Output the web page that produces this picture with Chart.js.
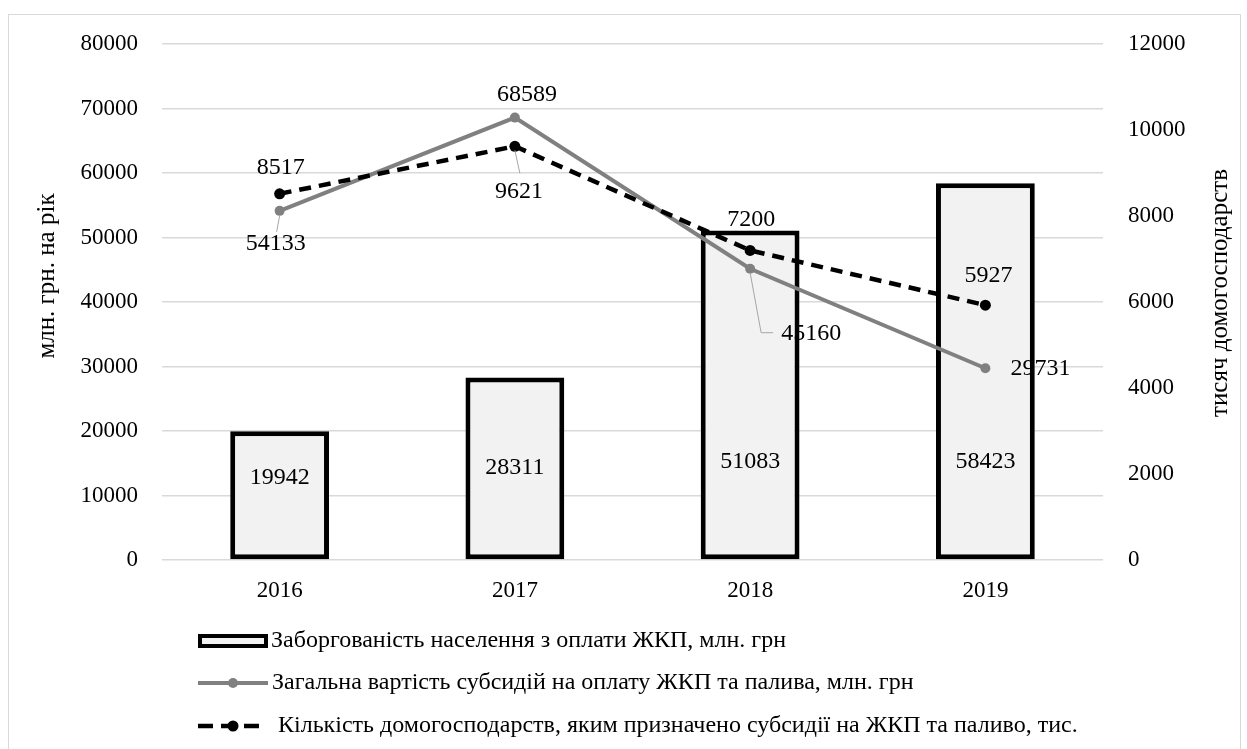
<!DOCTYPE html>
<html>
<head>
<meta charset="utf-8">
<script src="https://cdn.jsdelivr.net/npm/chart.js@4.4.1/dist/chart.umd.min.js"></script>
<style>
  html, body { margin: 0; padding: 0; background: #fff; }
  #wrap { width: 1247px; height: 749px; }
</style>
</head>
<body>
<div id="wrap"><canvas id="myChart" width="1247" height="749"></canvas></div>
<script>
  // data
  const years = ['2016', '2017', '2018', '2019'];
  const debt = [19942, 28311, 51083, 58423];           // bars, left axis
  const subsidyCost = [54133, 68589, 45160, 29731];    // grey line, left axis
  const households = [8517, 9621, 7200, 5927];         // dashed line, right axis

  const seriesNames = [
    'Заборгованість населення з оплати ЖКП, млн. грн',
    'Загальна вартість субсидій на оплату ЖКП та палива, млн. грн',
    'Кількість домогосподарств, яким призначено субсидії на ЖКП та паливо, тис.'
  ];
  const leftTitle = 'млн. грн. на рік';
  const rightTitle = 'тисяч домогосподарств';

  const FONT = 'Liberation Serif, Times New Roman, serif';
  const FSIZE = 24;      // labels + legend
  const TICKSIZE = 23;   // axis ticks
  const TITLESIZE = 25;  // axis titles

  // where each value label sits, relative to its mark (px)
  const barLabelShift = [[0, -18], [0, -1], [0, 67], [0, 90]];
  const costLabelShift = [[-4, 33], [12, -23], [61, 65], [55, 0]];
  const houseLabelShift = [[1, -26], [4, 45], [1, -31], [3, -29]];
  // leader lines (relative to the point), null = none
  const costLeaders = [[[0, 5], [-3, 21]], null, [[0, 4], [11, 64], [23, 64]], null];
  const houseLeaders = [null, [[0, 4], [5, 27]], null, null];

  // outer frame
  const framePlugin = {
    id: 'frame',
    beforeDraw(chart) {
      const ctx = chart.ctx;
      ctx.save();
      ctx.strokeStyle = '#d9d9d9';
      ctx.lineWidth = 1;
      ctx.strokeRect(8.5, 14.5, 1232, 740);
      ctx.restore();
    }
  };

  // value labels + leaders + axis titles
  const labelPlugin = {
    id: 'valueLabels',
    afterDatasetsDraw(chart) {
      const ctx = chart.ctx;
      ctx.save();
      ctx.font = FSIZE + 'px ' + FONT;
      ctx.fillStyle = '#000';
      ctx.textAlign = 'center';
      ctx.textBaseline = 'middle';

      const sets = [
        { idx: 0, shift: barLabelShift, leaders: null },
        { idx: 1, shift: costLabelShift, leaders: costLeaders },
        { idx: 2, shift: houseLabelShift, leaders: houseLeaders }
      ];
      sets.forEach(s => {
        const meta = chart.getDatasetMeta(s.idx);
        const vals = chart.data.datasets[s.idx].data;
        meta.data.forEach((el, i) => {
          let x = el.x, y = el.y;
          if (s.idx === 0) y = (el.y + el.base) / 2;
          if (s.leaders && s.leaders[i]) {
            ctx.strokeStyle = '#a6a6a6';
            ctx.lineWidth = 1;
            ctx.beginPath();
            s.leaders[i].forEach((p, k) => {
              if (k === 0) ctx.moveTo(x + p[0], y + p[1]);
              else ctx.lineTo(x + p[0], y + p[1]);
            });
            ctx.stroke();
          }
          ctx.fillText(String(vals[i]), x + s.shift[i][0], y + s.shift[i][1]);
        });
      });

      // axis titles, both read bottom-to-top
      const area = chart.chartArea;
      const midY = (area.top + area.bottom) / 2;
      ctx.font = TITLESIZE + 'px ' + FONT;
      ctx.save();
      ctx.translate(47, midY - 26);
      ctx.rotate(-Math.PI / 2);
      ctx.fillText(leftTitle, 0, 0);
      ctx.restore();
      ctx.save();
      ctx.translate(1220, midY - 9);
      ctx.rotate(-Math.PI / 2);
      ctx.fillText(rightTitle, 0, 0);
      ctx.restore();

      ctx.restore();
    }
  };

  // legend drawn by hand: three stacked rows
  const legendPlugin = {
    id: 'stackLegend',
    afterDraw(chart) {
      const ctx = chart.ctx;
      const ds = chart.data.datasets;
      const rows = [641, 683, 726];
      ctx.save();
      ctx.font = FSIZE + 'px ' + FONT;
      ctx.textBaseline = 'middle';
      ctx.textAlign = 'left';

      // bar swatch
      ctx.fillStyle = ds[0].backgroundColor;
      ctx.fillRect(198, rows[0] - 7, 70, 13);
      ctx.strokeStyle = ds[0].borderColor;
      ctx.lineWidth = 4;
      ctx.strokeRect(200, rows[0] - 5, 66, 10);
      ctx.fillStyle = '#000';
      ctx.fillText(ds[0].label, 271, rows[0]);

      // grey line swatch
      ctx.strokeStyle = ds[1].borderColor;
      ctx.lineWidth = ds[1].borderWidth;
      ctx.beginPath();
      ctx.moveTo(198, rows[1]); ctx.lineTo(268, rows[1]);
      ctx.stroke();
      ctx.fillStyle = ds[1].pointBackgroundColor;
      ctx.beginPath(); ctx.arc(233, rows[1], 5, 0, Math.PI * 2); ctx.fill();
      ctx.fillStyle = '#000';
      ctx.fillText(ds[1].label, 272, rows[1]);

      // dashed line swatch
      ctx.strokeStyle = ds[2].borderColor;
      ctx.lineWidth = ds[2].borderWidth;
      ctx.setLineDash([15, 8]);
      ctx.beginPath();
      ctx.moveTo(198, rows[2]); ctx.lineTo(263, rows[2]);
      ctx.stroke();
      ctx.setLineDash([]);
      ctx.fillStyle = ds[2].pointBackgroundColor;
      ctx.beginPath(); ctx.arc(233, rows[2], 5.5, 0, Math.PI * 2); ctx.fill();
      ctx.fillStyle = '#000';
      ctx.fillText(ds[2].label, 278, rows[2]);

      ctx.restore();
    }
  };

  const data = {
    labels: years,
    datasets: [
      {
        type: 'bar',
        label: seriesNames[0],
        data: debt,
        yAxisID: 'y',
        backgroundColor: '#f2f2f2',
        borderColor: '#000',
        borderWidth: 5,
        borderSkipped: false,
        barPercentage: 0.42,
        categoryPercentage: 1,
        order: 3
      },
      {
        type: 'line',
        label: seriesNames[1],
        data: subsidyCost,
        yAxisID: 'y',
        borderColor: '#808080',
        borderWidth: 4,
        pointBackgroundColor: '#808080',
        pointBorderColor: '#808080',
        pointRadius: 5,
        pointBorderWidth: 0,
        tension: 0,
        order: 2
      },
      {
        type: 'line',
        label: seriesNames[2],
        data: households,
        yAxisID: 'y1',
        borderColor: '#000',
        borderWidth: 4.5,
        borderDash: [12, 8],
        pointBackgroundColor: '#000',
        pointBorderColor: '#000',
        pointRadius: 5.5,
        pointBorderWidth: 0,
        tension: 0,
        order: 1
      }
    ]
  };

  const tickFont = { family: FONT, size: TICKSIZE };
  const plainNumber = v => String(v);

  const config = {
    data: data,
    options: {
      responsive: false,
      animation: false,
      layout: { padding: { top: 44, left: 0, right: 0, bottom: 0 } },
      plugins: {
        legend: { display: false },
        tooltip: { enabled: false }
      },
      scales: {
        x: {
          grid: { display: false },
          border: { display: false },
          ticks: { font: tickFont, color: '#000', padding: 9 },
          afterFit(scale) { scale.height = 189; }
        },
        y: {
          position: 'left',
          min: 0,
          max: 80000,
          ticks: { stepSize: 10000, font: tickFont, color: '#000', padding: 24, callback: plainNumber },
          grid: { color: '#d9d9d9', lineWidth: 1.5, drawTicks: false },
          border: { display: false },
          afterFit(scale) { scale.width = 162; }
        },
        y1: {
          position: 'right',
          min: 0,
          max: 12000,
          ticks: { stepSize: 2000, font: tickFont, color: '#000', padding: 25, callback: plainNumber },
          grid: { display: false, drawTicks: false },
          border: { display: false },
          afterFit(scale) { scale.width = 144; }
        }
      }
    },
    plugins: [framePlugin, labelPlugin, legendPlugin]
  };

  const myChart = new Chart(document.getElementById('myChart'), config);
</script>
</body>
</html>
